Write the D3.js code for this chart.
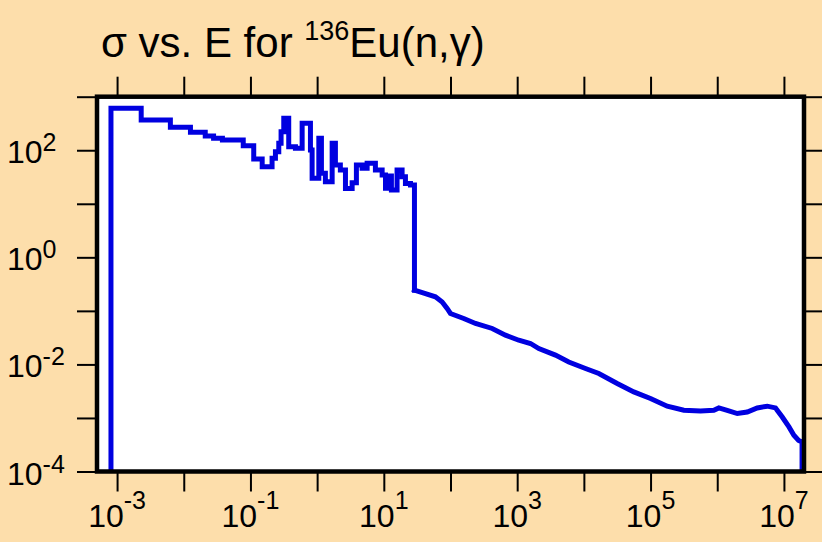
<!DOCTYPE html>
<html>
<head>
<meta charset="utf-8">
<script src="https://cdn.jsdelivr.net/npm/d3@7"></script>
<style>
  html, body { margin: 0; padding: 0; background: #FDDEAB; }
  svg { display: block; }
  text { font-family: "Liberation Sans", Arial, Helvetica, sans-serif; fill: #000; }
</style>
</head>
<body>
<svg id="chart" width="822" height="542"></svg>
<script>
// ---- Data ----
// Resonance region: histogram steps (energy = lower edge of each step, eV)
const energy = [
  8.1e-4, 8.1e-4, 2.3e-3, 6.3e-3, 1.26e-2, 2.1e-2, 2.8e-2, 3.8e-2, 7.8e-2, 0.112,
  0.15, 0.211, 0.237, 0.266, 0.288, 0.316, 0.375, 0.473, 0.596, 0.794,
  0.841, 1.06, 1.16, 1.33, 1.68, 1.88, 2.23, 2.66, 3.35, 3.88,
  4.73, 5.62, 7.48, 9.44, 10.6, 11.7, 13.0, 15.8, 18.8, 21.1,
  25.1, 28.8
];
// Cross section (b) for each step
const sigma = [
  1e-5, 607, 367, 268, 216, 184, 167, 155, 121, 68.5,
  49, 70.6, 94, 135, 222, 395, 116, 109, 318, 101,
  30, 167, 37, 25.8, 135, 52.8, 42.6, 19.4, 24.7, 52.8,
  45.9, 56.9, 42.6, 34.4, 19.6, 33, 18, 42.6, 32, 24,
  22.4, 0.244
];
// Fast region: finely binned, read as points along the curve (eV, b)
const tailEnergy = [
  28.8, 42.1, 59.4, 75, 89, 99.8, 158, 237, 422, 667,
  1057, 1583, 2110, 3750, 5940, 10570, 16750, 31600, 56100, 99800,
  177800, 315500, 561000, 889000, 1.057e6, 1.41e6, 2.0e6, 2.82e6, 3.98e6, 5.62e6,
  7.48e6, 9.44e6, 1.19e7, 1.41e7, 1.66e7, 1.87e7, 1.87e7
];
const tailSigma = [
  0.244, 0.211, 0.183, 0.147, 0.111, 0.0894, 0.0721, 0.0581, 0.0469, 0.0352,
  0.0283, 0.0246, 0.0198, 0.0149, 0.0111, 0.00838, 0.00676, 0.0044, 0.00306, 0.00231,
  0.00166, 0.00139, 0.00135, 0.00139, 0.00154, 0.00139, 0.00121, 0.00129, 0.00154, 0.00166,
  0.00154, 0.00104, 0.00068, 0.000475, 0.00038, 0.000356, 1e-5
];
const xTickExps = [-3, -2, -1, 0, 1, 2, 3, 4, 5, 6, 7];
const xLabelExps = [-3, -1, 1, 3, 5, 7];
const yTickExps = [-4, -3, -2, -1, 0, 1, 2, 3];
const yLabelExps = [-4, -2, 0, 2];
const xDomain = [5e-4, 2e7];
const yDomain = [1e-4, 1e3];
const titleMain = "σ vs. E for ";
const titleSup = "136";
const titleRest = "Eu(n,γ)";

// ---- Layout ----
const L = 97, R = 804, T = 96.7, B = 471.5;
const svg = d3.select("#chart");

const x = d3.scaleLog().domain(xDomain).range([L, R]);
const y = d3.scaleLog().domain(yDomain).range([B, T]);

svg.append("rect").attr("width", 822).attr("height", 542).attr("fill", "#FDDEAB");
svg.append("rect").attr("x", L).attr("y", T).attr("width", R - L).attr("height", B - T).attr("fill", "#fff");

svg.append("clipPath").attr("id", "clip")
  .append("rect").attr("x", L).attr("y", T).attr("width", R - L).attr("height", B - T);

// ---- Curve ----
const stepPts = energy.map((e, i) => [e, sigma[i]]);
const tailPts = tailEnergy.map((e, i) => [e, tailSigma[i]]);
const stepLine = d3.line().x(d => x(d[0])).y(d => y(d[1])).curve(d3.curveStepAfter);
const tailLine = d3.line().x(d => x(d[0])).y(d => y(d[1])).curve(d3.curveLinear);
const curveG = svg.append("g").attr("clip-path", "url(#clip)");
[[stepLine, stepPts], [tailLine, tailPts]].forEach(([ln, pts]) => {
  curveG.append("path")
    .attr("d", ln(pts))
    .attr("fill", "none")
    .attr("stroke", "#0000E0")
    .attr("stroke-width", 5)
    .attr("stroke-linejoin", "miter")
    .attr("stroke-linecap", "square");
});

// ---- Axes ----
const xTicks = xTickExps.map(p => Math.pow(10, p));
const yTicks = yTickExps.map(p => Math.pow(10, p));

function styleAxis(g) {
  g.select(".domain").remove();
  g.selectAll(".tick line").attr("stroke", "#000").attr("stroke-width", 2);
  g.selectAll(".tick text").remove();
}

svg.append("g").attr("transform", `translate(0,${B})`)
  .call(d3.axisBottom(x).tickValues(xTicks).tickSize(20).tickFormat(""))
  .call(styleAxis);
svg.append("g").attr("transform", `translate(0,${T})`)
  .call(d3.axisTop(x).tickValues(xTicks).tickSize(20).tickFormat(""))
  .call(styleAxis);
svg.append("g").attr("transform", `translate(${L},0)`)
  .call(d3.axisLeft(y).tickValues(yTicks).tickSize(20).tickFormat(""))
  .call(styleAxis);
svg.append("g").attr("transform", `translate(${R},0)`)
  .call(d3.axisRight(y).tickValues(yTicks).tickSize(20).tickFormat(""))
  .call(styleAxis);

// Frame
svg.append("rect").attr("x", L).attr("y", T).attr("width", R - L).attr("height", B - T)
  .attr("fill", "none").attr("stroke", "#000").attr("stroke-width", 4.5);

// X labels
xLabelExps.forEach(p => {
  const t = svg.append("text")
    .attr("x", x(Math.pow(10, p)))
    .attr("y", 527)
    .attr("text-anchor", "middle")
    .style("font-size", "32px");
  t.append("tspan").text("10");
  t.append("tspan").attr("dy", -18).style("font-size", "25px").text(String(p));
});

// Y labels
yLabelExps.forEach(p => {
  const t = svg.append("text")
    .attr("x", 7)
    .attr("y", y(Math.pow(10, p)) + 13)
    .attr("text-anchor", "start")
    .style("font-size", "32px");
  t.append("tspan").text("10");
  t.append("tspan").attr("dy", -12).style("font-size", "25px").text(String(p));
});

// Title
const title = svg.append("text").attr("x", 101).attr("y", 57).style("font-size", "42px");
title.append("tspan").text(titleMain);
title.append("tspan").attr("dy", -17).style("font-size", "27px").text(titleSup);
title.append("tspan").attr("dy", 17).text(titleRest);
</script>
</body>
</html>
